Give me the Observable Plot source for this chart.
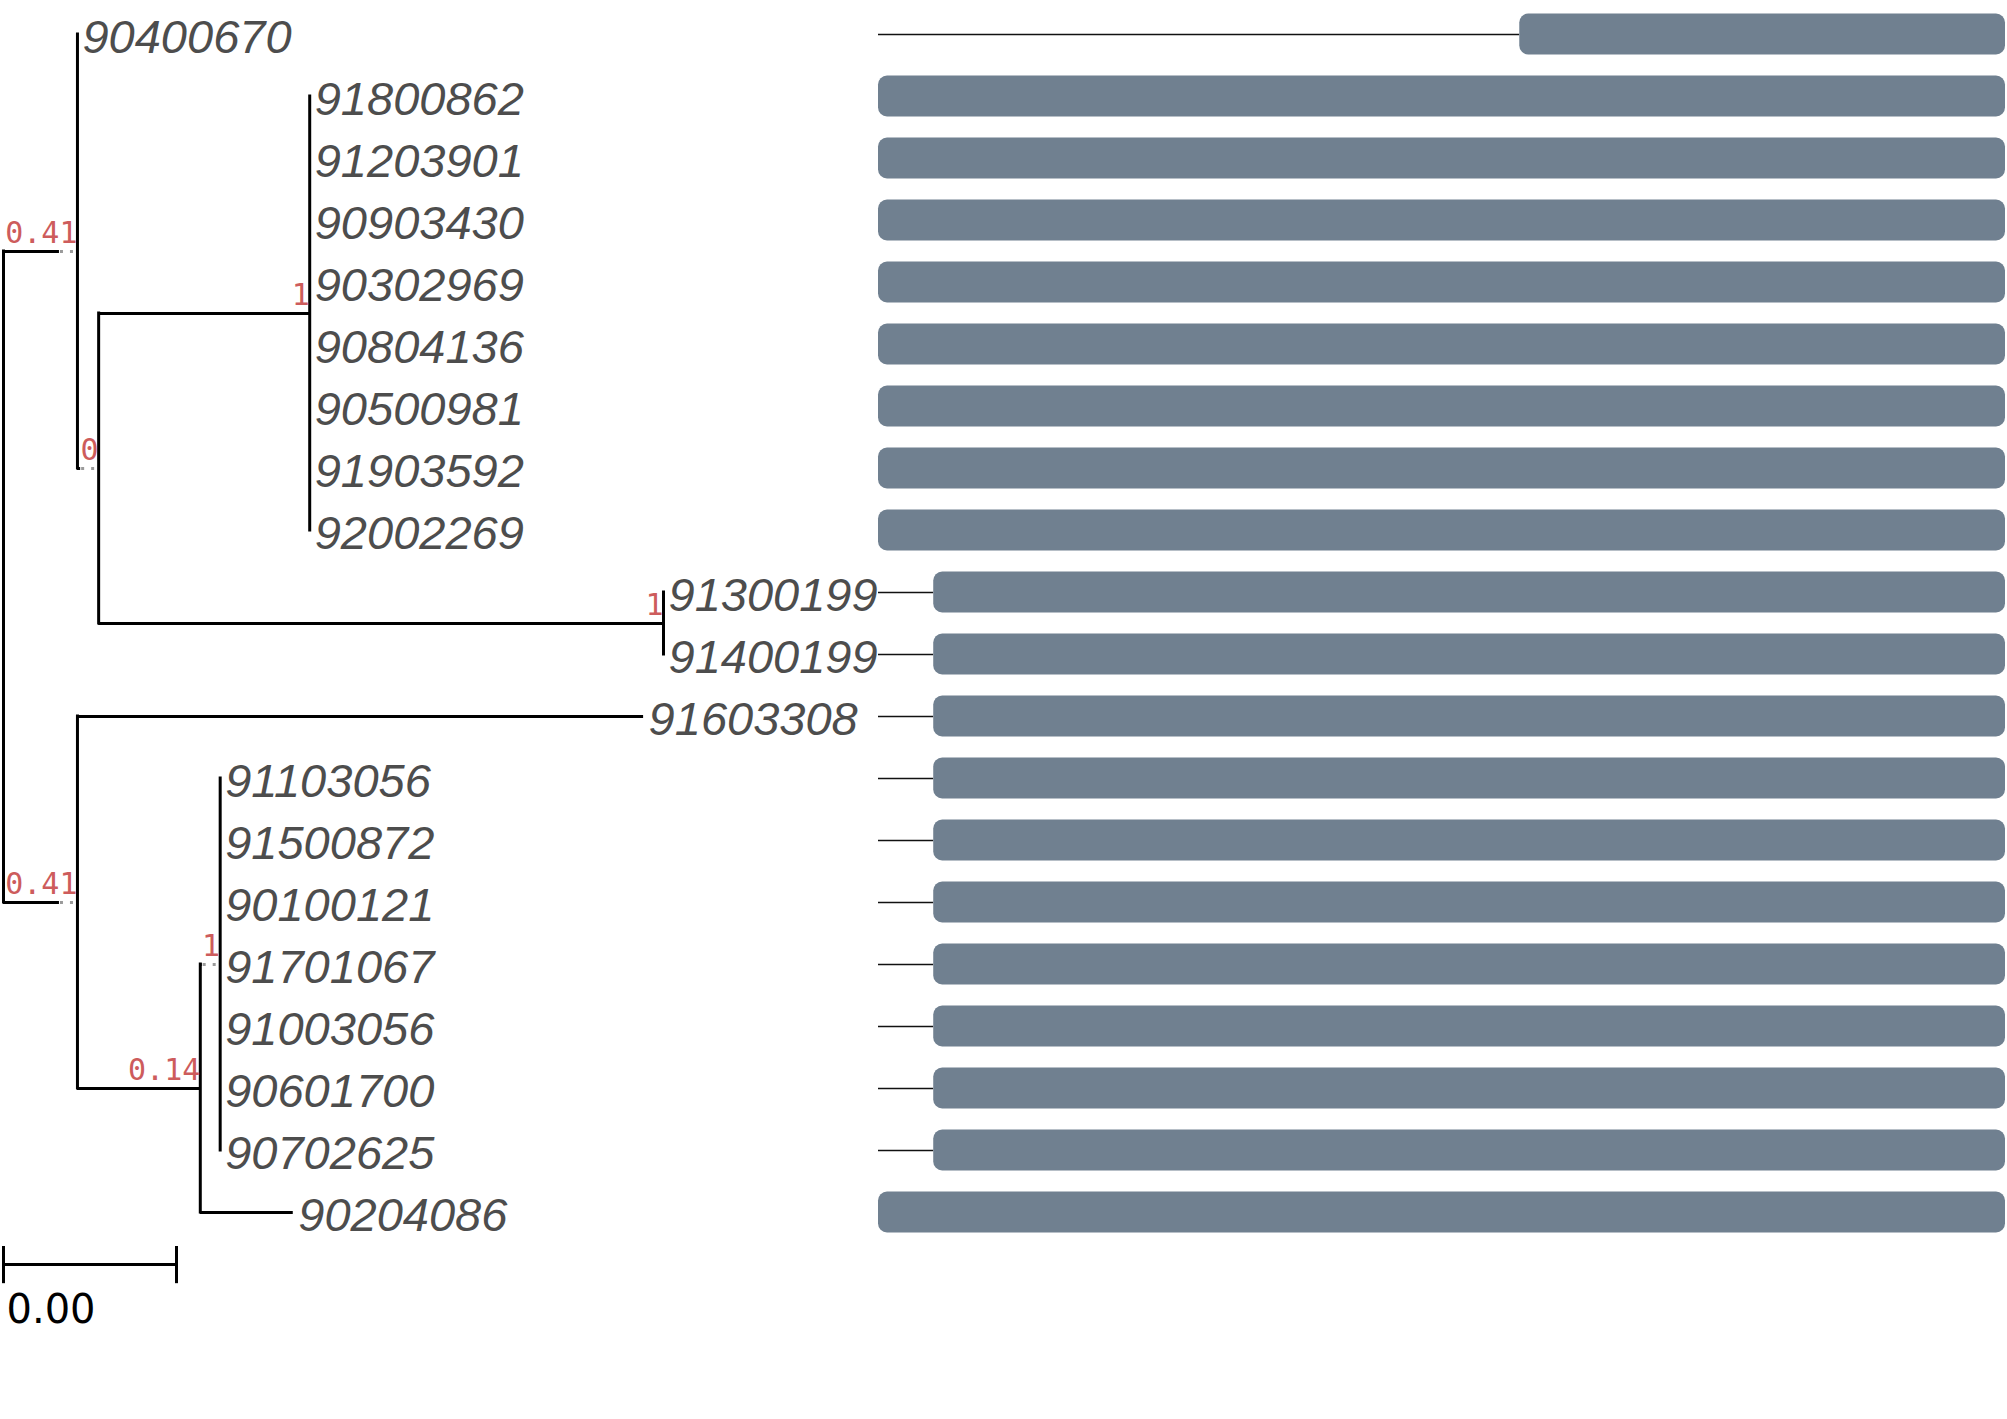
<!DOCTYPE html>
<html><head><meta charset="utf-8">
<script src="https://cdn.jsdelivr.net/npm/d3@7"></script>
<script src="https://cdn.jsdelivr.net/npm/@observablehq/plot@0.6"></script>
<style>
body{margin:0;background:#fff;}
#wrap{position:relative;width:2007px;height:1419px;overflow:hidden;}
#wrap svg{position:absolute;left:0;top:0;background:transparent;}
</style></head><body><div id="wrap"></div>
<script>
// ---- data ----
const tips = ["90400670","91800862","91203901","90903430","90302969","90804136","90500981","91903592","92002269",
  "91300199","91400199","91603308","91103056","91500872","90100121","91701067","91003056","90601700","90702625","90204086"];
const tipParents = ["A","n1a","n1a","n1a","n1a","n1a","n1a","n1a","n1a",
  "n1b","n1b","B","n1c","n1c","n1c","n1c","n1c","n1c","n1c","n014"];
const tipBranch = [0,0,0,0,0,0,0,0,0, 0,0,0.01309,0,0,0,0,0,0,0,0.00215];
const nodeIds = ["root","A","B","n0","n1a","n1b","n014","n1c"];
const nodeParents = [null,"root","root","A","n0","n0","B","n014"];
const nodeBranch = [0,0.00171,0.00171,0.00049,0.00488,0.01306,0.00284,0.00046];
const nodeSupport = [null,0.41,0.41,0,1,1,0.14,1];
const alignStart = [569,0,0,0,0,0,0,0,0,49,49,49,49,49,49,49,49,49,49,0];
const alignEnd = 1000;
const scaleBarLength = 0.004;
const dottedEnds = ["A","B","n0","n1c"];

// ---- tree layout ----
const nodes = new Map();
nodeIds.forEach((id,i)=>nodes.set(id,{id,parent:nodeParents[i],bl:nodeBranch[i],support:nodeSupport[i],tip:false,children:[]}));
tips.forEach((t,i)=>nodes.set(t,{id:t,parent:tipParents[i],bl:tipBranch[i],tip:true,row:i+1,children:[]}));
for (const n of nodes.values()) if (n.parent) nodes.get(n.parent).children.push(n);
(function setX(n, px){ n.x = px + n.bl; n.children.forEach(c=>setX(c,n.x)); })(nodes.get("root"),0);
(function setY(n){ if (n.tip){ n.y=n.row; return n.y;} const ys=n.children.map(setY); n.ymin=d3.min(ys); n.ymax=d3.max(ys); n.y=(n.ymin+n.ymax)/2; return n.y; })(nodes.get("root"));
const all = [...nodes.values()];
const internal = all.filter(n=>!n.tip);
const branches = all.filter(n=>n.parent).map(n=>({...n, px:nodes.get(n.parent).x, dotted:dottedEnds.includes(n.id)}));
const tipNodes = all.filter(n=>n.tip);
const labelled = internal.filter(n=>n.support!=null);
const barRow = tips.length + 0.84;

const pxPerUnit = 43250;
const treePlot = Plot.plot({
  width:2007, height:1419, margin:0,
  x:{domain:[0,0.02], range:[3,3+0.02*pxPerUnit], axis:null},
  y:{domain:[1,tips.length], range:[34,34+62*(tips.length-1)], axis:null},
  style:{background:"transparent"},
  marks:[
    Plot.ruleY(branches.filter(b=>!b.dotted && b.x>b.px), {x1:"px", x2:"x", y:"y", stroke:"#000", strokeWidth:3}),
    Plot.ruleY(branches.filter(b=>b.dotted), {x1:"px", x2:"x", y:"y", stroke:"#000", strokeWidth:3, insetRight:18}),
    Plot.ruleY(branches.filter(b=>b.dotted), {x1:"x", x2:"x", y:"y", stroke:"#9a9a9a", strokeWidth:3, insetLeft:-17, insetRight:2, strokeDasharray:"3,7"}),
    Plot.ruleX(internal, {x:"x", y1:"ymin", y2:"ymax", stroke:"#000", strokeWidth:3, strokeLinecap:"square"}),
    Plot.text(tipNodes, {x:"x", y:"y", text:"id", textAnchor:"start", dx:5, dy:3, fontSize:47, fontStyle:"italic", fontFamily:"Liberation Sans", fill:"#4d4d4d"}),
    Plot.text(labelled, {x:"x", y:"y", text:d=>String(d.support), textAnchor:"end", lineAnchor:"bottom", dy:-9, fontSize:30, fontFamily:"DejaVu Sans Mono", fill:"#CD5C5C"}),
    Plot.link([scaleBarLength], {x1:()=>0, x2:d=>d, y1:()=>barRow, y2:()=>barRow, stroke:"#000", strokeWidth:3}),
    Plot.link([0, scaleBarLength], {x1:d=>d, x2:d=>d, y1:()=>barRow-0.3, y2:()=>barRow+0.3, stroke:"#000", strokeWidth:3}),
    Plot.text([scaleBarLength], {x:()=>0, y:()=>barRow, text:d=>d3.format(".2f")(d), textAnchor:"start", lineAnchor:"bottom", dx:3, dy:58, fontSize:40, fontFamily:"DejaVu Sans", fill:"#000"})
  ]
});

const alignRows = tips.map((t,i)=>({tip:t, start:alignStart[i]}));
const alignPlot = Plot.plot({
  width:2007, height:1419, margin:0,
  x:{domain:[0,alignEnd], range:[878,2005], axis:null},
  y:{domain:tips, range:[3,3+62*tips.length], paddingInner:0.339, paddingOuter:0.1695, round:false, axis:null},
  style:{background:"transparent"},
  marks:[
    Plot.ruleY(alignRows.filter(d=>d.start>0), {x1:()=>0, x2:"start", y:"tip", stroke:"#111", strokeWidth:1.6}),
    Plot.barX(alignRows, {x1:"start", x2:()=>alignEnd, y:"tip", fill:"#708090", rx:9})
  ]
});
const wrap = document.getElementById("wrap");
wrap.appendChild(alignPlot);
wrap.appendChild(treePlot);
</script></body></html>
